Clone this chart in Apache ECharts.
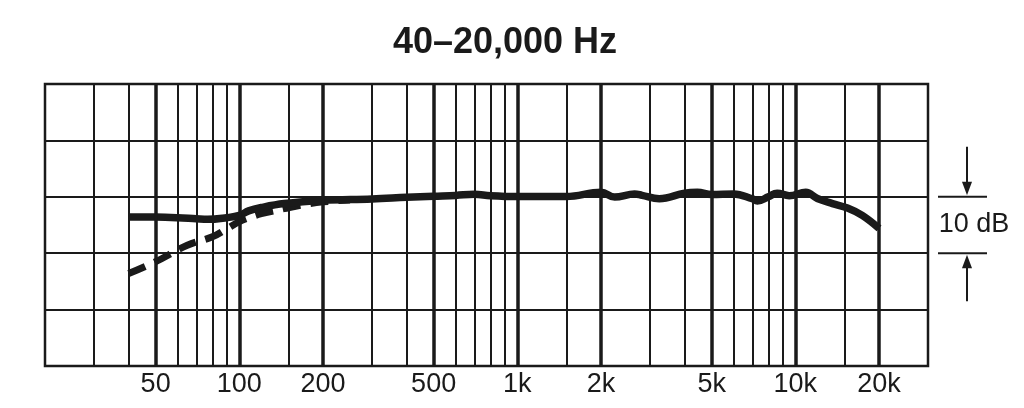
<!DOCTYPE html>
<html><head><meta charset="utf-8">
<script src="https://cdn.jsdelivr.net/npm/echarts@6/dist/echarts.min.js"></script>
<style>html,body{margin:0;padding:0;background:#fff}#c{width:1024px;height:408px}</style>
</head><body><div id="c"></div>
<script>
const titleText = '40–20,000 Hz';
const tickValues = [50, 100, 200, 500, 1000, 2000, 5000, 10000, 20000];
const tickLabels = ['50', '100', '200', '500', '1k', '2k', '5k', '10k', '20k'];
const minorGridFreqs = [30, 40, 60, 70, 80, 90, 150, 300, 400, 600, 700, 800, 900, 1500, 3000, 4000, 6000, 7000, 8000, 9000, 15000];
const majorGridFreqs = [50, 100, 200, 500, 1000, 2000, 5000, 10000, 20000];
const solidFreq = [40, 50, 60, 70, 77, 90, 100, 108, 120, 145, 200, 300, 400, 500, 600, 700, 800, 1000, 1500, 2000, 2240, 2640, 2810, 3240, 4000, 4440, 5000, 6000, 7000, 7300, 8000, 8600, 9500, 10900, 12000, 13600, 15400, 17400, 20000];
const solidDb = [-3.6, -3.6, -3.7, -3.9, -4.0, -3.7, -3.3, -2.5, -1.9, -1.2, -0.65, -0.4, -0.1, 0.1, 0.25, 0.45, 0.2, 0.05, 0.05, 0.8, -0.05, 0.5, 0.25, -0.35, 0.65, 0.8, 0.4, 0.5, -0.35, -0.75, 0.0, 0.65, 0.2, 0.8, -0.3, -1.2, -2.0, -3.3, -5.6];
const dashFreq = [40, 50, 65, 80, 90, 100, 110, 120, 145, 170, 200, 250];
const dashDb = [-13.6, -11.5, -8.6, -7.1, -5.7, -4.4, -3.6, -3.0, -2.1, -1.4, -0.9, -0.55];
const scaleLabel = '10 dB';

const ink = '#1a1a1a';
const font = '"Liberation Sans", Arial, Helvetica, sans-serif';
const pairs = (f, d) => f.map((x, i) => [x, d[i]]);
const labelFor = v => {
  let best = 0, bd = Infinity;
  tickValues.forEach((t, i) => { const d = Math.abs(Math.log10(v) - Math.log10(t)); if (d < bd) { bd = d; best = i; } });
  return tickLabels[best];
};

const chart = echarts.init(document.getElementById('c'));
const gridLines = majorGridFreqs.map(f => ({ xAxis: f, lineStyle: { width: 3.5 } }))
  .concat(minorGridFreqs.map(f => ({ xAxis: f, lineStyle: { width: 2 } })));

chart.setOption({
  animation: false,
  grid: { left: 45, right: 96, top: 84, bottom: 42, show: true, borderColor: ink, borderWidth: 2.5 },
  xAxis: {
    type: 'log', logBase: 10, min: 20, max: 30000,
    axisLine: { show: false }, axisTick: { show: false }, splitLine: { show: false },
    axisLabel: { customValues: tickValues, formatter: labelFor, fontFamily: font, fontSize: 27, color: ink, margin: 5 }
  },
  yAxis: {
    type: 'value', min: -30, max: 20, interval: 10,
    axisLine: { show: false }, axisTick: { show: false }, axisLabel: { show: false },
    splitLine: { lineStyle: { color: ink, width: 2 } }
  },
  series: [
    {
      type: 'line', data: [[20, -30]], showSymbol: false, symbol: 'none', lineStyle: { opacity: 0 }, silent: true, z: 1,
      markLine: { silent: true, symbol: ['none', 'none'], label: { show: false }, lineStyle: { color: ink, type: 'solid' }, data: gridLines }
    },
    {
      type: 'line', data: pairs(dashFreq, dashDb), showSymbol: false, smooth: 0.4, z: 3,
      lineStyle: { color: ink, width: 7, type: [18, 10], cap: 'butt' }
    },
    {
      type: 'line', data: pairs(solidFreq, solidDb), showSymbol: false, smooth: 0.4, z: 4,
      lineStyle: { color: ink, width: 7.5 }
    }
  ]
});

const y0 = chart.convertToPixel({ yAxisIndex: 0 }, 0);
const y10 = chart.convertToPixel({ yAxisIndex: 0 }, -10);
chart.setOption({
  graphic: [
    { type: 'text', x: 505, y: 43, style: { text: titleText, fontFamily: font, fontSize: 36, fontWeight: 'bold', fill: ink, align: 'center', verticalAlign: 'middle' } },
    { type: 'line', shape: { x1: 938, y1: y0, x2: 987, y2: y0 }, style: { stroke: ink, lineWidth: 2 } },
    { type: 'line', shape: { x1: 938, y1: y10, x2: 987, y2: y10 }, style: { stroke: ink, lineWidth: 2 } },
    { type: 'line', shape: { x1: 967, y1: y0 - 50, x2: 967, y2: y0 - 12 }, style: { stroke: ink, lineWidth: 2 } },
    { type: 'polygon', shape: { points: [[962, y0 - 15], [972, y0 - 15], [967, y0 - 1.5]] }, style: { fill: ink } },
    { type: 'line', shape: { x1: 967, y1: y10 + 48, x2: 967, y2: y10 + 12 }, style: { stroke: ink, lineWidth: 2 } },
    { type: 'polygon', shape: { points: [[962, y10 + 15], [972, y10 + 15], [967, y10 + 1.5]] }, style: { fill: ink } },
    { type: 'text', x: 974, y: (y0 + y10) / 2, style: { text: scaleLabel, fontFamily: font, fontSize: 27, fill: ink, align: 'center', verticalAlign: 'middle' } }
  ]
});
</script></body></html>
